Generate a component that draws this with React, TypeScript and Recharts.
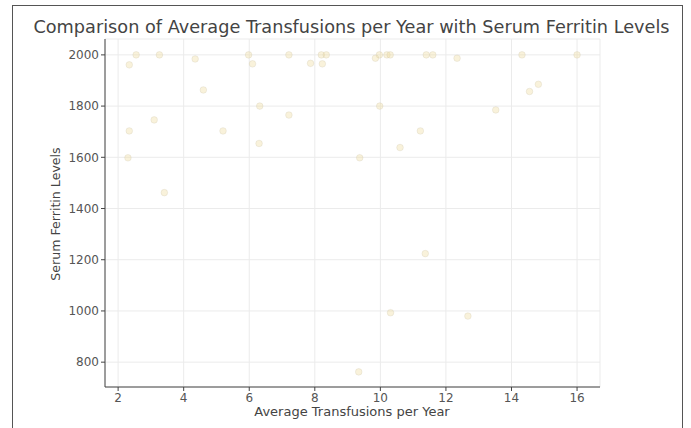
import React from 'react'
import { ScatterChart, Scatter, XAxis, YAxis, CartesianGrid } from 'recharts'

const transfusions = [2.55, 3.26, 2.34, 4.35, 5.98, 6.1, 4.6, 6.32, 3.1, 2.34, 5.2, 6.3, 2.3, 3.41, 7.21, 8.2, 8.35, 7.87, 8.23, 9.97, 10.2, 10.3, 9.85, 7.21, 9.98, 11.22, 10.6, 9.37, 11.4, 11.6, 12.34, 14.32, 16.0, 14.82, 14.55, 13.52, 10.31, 12.67, 9.34, 11.37]
const ferritin = [2000, 2000, 1961, 1984, 2000, 1965, 1863, 1800, 1746, 1703, 1703, 1654, 1598, 1462, 2000, 2000, 2000, 1967, 1965, 2000, 2000, 2000, 1987, 1765, 1800, 1703, 1638, 1598, 2000, 2000, 1987, 2000, 2000, 1885, 1857, 1785, 993, 980, 762, 1224]
const xTicks = [2, 4, 6, 8, 10, 12, 14, 16]
const yTicks = [800, 1000, 1200, 1400, 1600, 1800, 2000]

const data = transfusions.map((x, i) => ({ x, y: ferritin[i] }))

const font = '"DejaVu Sans", sans-serif'

const Dot = (props: any) => {
  const { cx, cy } = props
  if (cx == null || cy == null) return null
  return <circle cx={cx} cy={cy} r={3.3} fill="#efdda0" fillOpacity={0.38} stroke="#c9c2ac" strokeWidth={0.6} strokeOpacity={0.45} />
}

export default function App() {
  return (
    <div style={{ position: 'absolute', left: 0, top: 0, width: 691, height: 428, background: '#fff', overflow: 'hidden', fontFamily: font }}>
      <div style={{ position: 'absolute', left: 12, top: 5, width: 671, height: 440, border: '1.5px solid #555', boxSizing: 'border-box' }} />
      <div style={{ position: 'absolute', left: 0, width: 703, top: 17, textAlign: 'center', fontSize: 17.7, color: '#444' }}>
        Comparison of Average Transfusions per Year with Serum Ferritin Levels
      </div>
      <ScatterChart width={691} height={428} margin={{ top: 39, right: 91, bottom: 0, left: 0 }}>
        <CartesianGrid stroke="#ebebeb" />
        <XAxis
          type="number"
          dataKey="x"
          domain={[1.6, 16.7]}
          ticks={xTicks}
          allowDataOverflow
          height={41}
          tickSize={4}
          tickMargin={2}
          stroke="#444"
          tick={{ fill: '#555', fontSize: 12, fontFamily: font }}
        />
        <YAxis
          type="number"
          dataKey="y"
          domain={[703, 2062]}
          ticks={yTicks}
          allowDataOverflow
          width={105}
          tickSize={4}
          tickMargin={2}
          stroke="#444"
          tick={{ fill: '#555', fontSize: 12, fontFamily: font }}
        />
        <Scatter data={data} shape={<Dot />} isAnimationActive={false} />
      </ScatterChart>
      <div style={{ position: 'absolute', left: 0, width: 704, top: 404, textAlign: 'center', fontSize: 13, color: '#444' }}>
        Average Transfusions per Year
      </div>
      <div style={{ position: 'absolute', left: 55, top: 214, transform: 'translate(-50%, -50%) rotate(-90deg)', whiteSpace: 'nowrap', fontSize: 12.6, color: '#444' }}>
        Serum Ferritin Levels
      </div>
    </div>
  )
}
